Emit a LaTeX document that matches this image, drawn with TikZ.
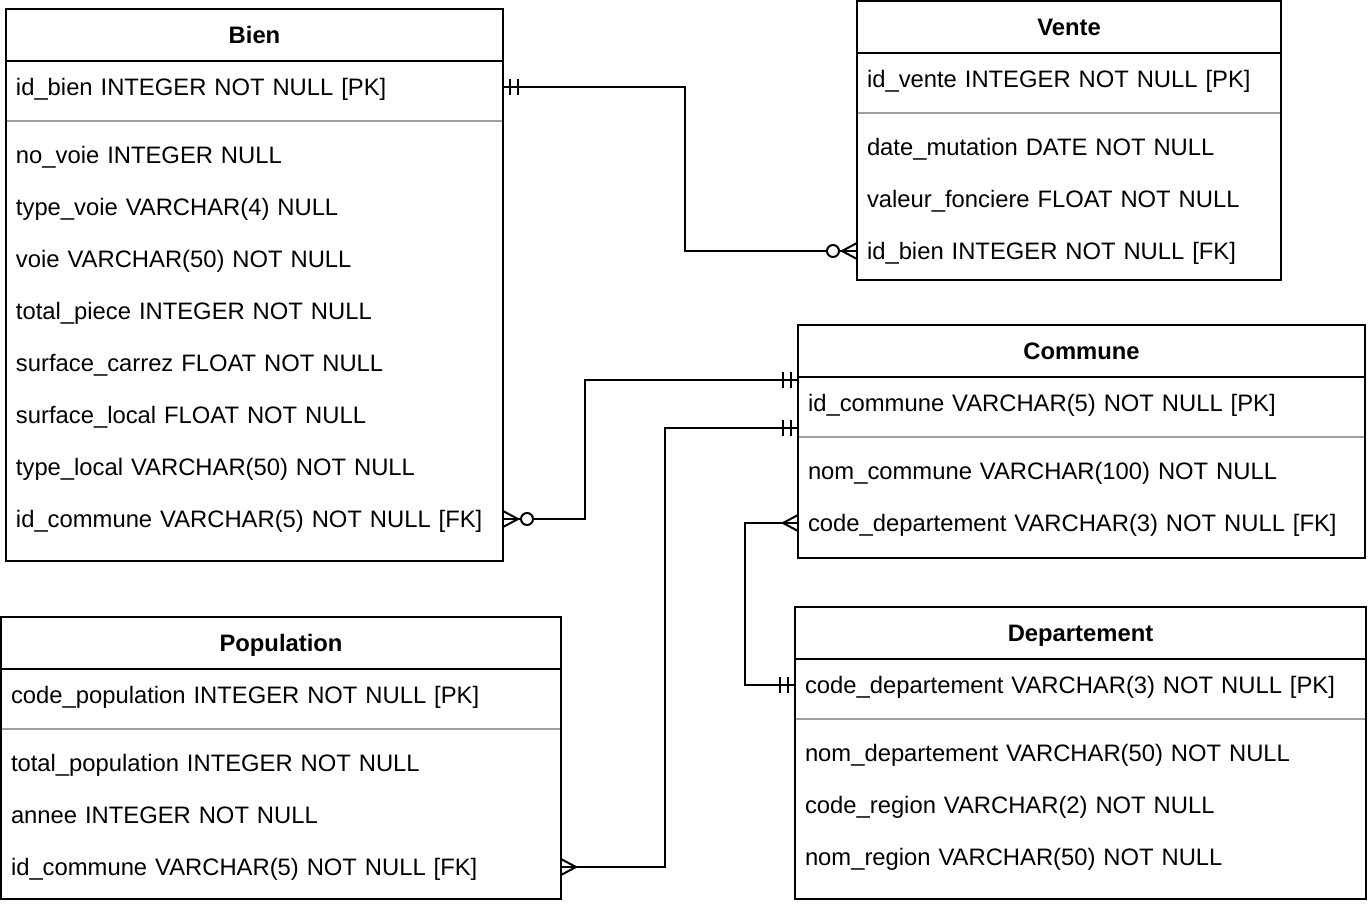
\documentclass[tikz,border=0pt]{standalone}
\usepackage{fontspec}
\setmainfont{Liberation Sans}
\usetikzlibrary{positioning,decorations.markings}
\definecolor{sepgray}{HTML}{A0A0A0}
\tikzset{
 head/.style={draw,minimum height=52pt,inner sep=0pt,outer sep=0pt,text height=17pt,text depth=0pt,font=\fontsize{23.8}{28}\selectfont\bfseries},
 body/.style={draw,anchor=north,inner sep=0pt,outer sep=0pt},
 row/.style={anchor=west,text width=#1,inner xsep=10pt,inner ysep=0pt,minimum height=52pt,outer sep=0pt,text height=17pt,text depth=0pt,align=left},
 divider/.style={sepgray,shorten <=1pt,shorten >=1pt},
 one start/.style={postaction={decorate,decoration={markings,mark=at position 0 with {\draw(7pt,-8pt)--(7pt,8pt)(15pt,-8pt)--(15pt,8pt);}}}},
 one end/.style={postaction={decorate,decoration={markings,mark=at position 1 with {\draw(-7pt,-8pt)--(-7pt,8pt)(-15pt,-8pt)--(-15pt,8pt);}}}},
 many start/.style={postaction={decorate,decoration={markings,mark=at position 0 with {\draw(0pt,-8pt)--(15pt,0pt)--(0pt,8pt);}}}},
 zmany start/.style={postaction={decorate,decoration={markings,mark=at position 0 with {\draw(0pt,-8pt)--(15pt,0pt)--(0pt,8pt);\draw[fill=white](24pt,0pt)circle(6pt);}}}},
 zmany end/.style={postaction={decorate,decoration={markings,mark=at position 1 with {\draw(0pt,-8pt)--(-15pt,0pt)--(0pt,8pt);\draw[fill=white](-24pt,0pt)circle(6pt);}}}}
}
\begin{document}
\begin{tikzpicture}[x=1pt,y=-1pt,line width=2pt,font=\fontsize{23.8}{28}\selectfont]
 \useasboundingbox[fill=white](0,0)rectangle(1370,904);
 \node[head,minimum width=497pt](bien head)at(254.5,35){Bien};
 \node[body,minimum width=497pt,minimum height=500pt](bien)at(bien head.south){};
 \node[row=477pt](bien-pk)at(6,87){id\_bien INTEGER NOT NULL [PK]};
 \draw[divider]([yshift=-8pt]bien-pk.south west)--([yshift=-8pt]bien-pk.south east);
 \foreach \t[count=\i]in{no\_voie INTEGER NULL,type\_voie VARCHAR(4) NULL,voie VARCHAR(50) NOT NULL,total\_piece INTEGER NOT NULL,surface\_carrez FLOAT NOT NULL,surface\_local FLOAT NOT NULL,type\_local VARCHAR(50) NOT NULL,id\_commune VARCHAR(5) NOT NULL [FK]}
  \node[row=477pt](bien-\i)at(6,103+52*\i){\t};
 \node[head,minimum width=424pt](vente head)at(1069,27){Vente};
 \node[body,minimum width=424pt,minimum height=227pt](vente)at(vente head.south){};
 \node[row=404pt](vente-pk)at(857,79){id\_vente INTEGER NOT NULL [PK]};
 \draw[divider]([yshift=-8pt]vente-pk.south west)--([yshift=-8pt]vente-pk.south east);
 \foreach \t[count=\i]in{date\_mutation DATE NOT NULL,valeur\_fonciere FLOAT NOT NULL,id\_bien INTEGER NOT NULL [FK]}
  \node[row=404pt](vente-\i)at(857,95+52*\i){\t};
 \node[head,minimum width=567pt](commune head)at(1081.5,351){Commune};
 \node[body,minimum width=567pt,minimum height=181pt](commune)at(commune head.south){};
 \node[row=547pt](commune-pk)at(798,403){id\_commune VARCHAR(5) NOT NULL [PK]};
 \draw[divider]([yshift=-8pt]commune-pk.south west)--([yshift=-8pt]commune-pk.south east);
 \foreach \t[count=\i]in{nom\_commune VARCHAR(100) NOT NULL,code\_departement VARCHAR(3) NOT NULL [FK]}
  \node[row=547pt](commune-\i)at(798,419+52*\i){\t};
 \node[head,minimum width=571pt](dep head)at(1080.5,633){Departement};
 \node[body,minimum width=571pt,minimum height=240pt](dep)at(dep head.south){};
 \node[row=551pt](dep-pk)at(795,685){code\_departement VARCHAR(3) NOT NULL [PK]};
 \draw[divider]([yshift=-8pt]dep-pk.south west)--([yshift=-8pt]dep-pk.south east);
 \foreach \t[count=\i]in{nom\_departement VARCHAR(50) NOT NULL,code\_region VARCHAR(2) NOT NULL,nom\_region VARCHAR(50) NOT NULL}
  \node[row=551pt](dep-\i)at(795,701+52*\i){\t};
 \node[head,minimum width=560pt](pop head)at(281,643){Population};
 \node[body,minimum width=560pt,minimum height=230pt](pop)at(pop head.south){};
 \node[row=540pt](pop-pk)at(1,695){code\_population INTEGER NOT NULL [PK]};
 \draw[divider]([yshift=-8pt]pop-pk.south west)--([yshift=-8pt]pop-pk.south east);
 \foreach \t[count=\i]in{total\_population INTEGER NOT NULL,annee INTEGER NOT NULL,id\_commune VARCHAR(5) NOT NULL [FK]}
  \node[row=540pt](pop-\i)at(1,711+52*\i){\t};
 \draw[one start,zmany end](bien-pk.east)--++(182,0)|-(vente-3.west);
 \draw[zmany start,one end](bien-8.east)--++(82,0)|-([yshift=-3pt]commune-pk.north west);
 \draw[many start,one end](pop-3.east)--++(104,0)|-([yshift=1pt]commune-pk.south west);
 \draw[many start,one end](commune-2.west)--++(-53,0)|-(dep-pk.west);
\end{tikzpicture}
\end{document}
